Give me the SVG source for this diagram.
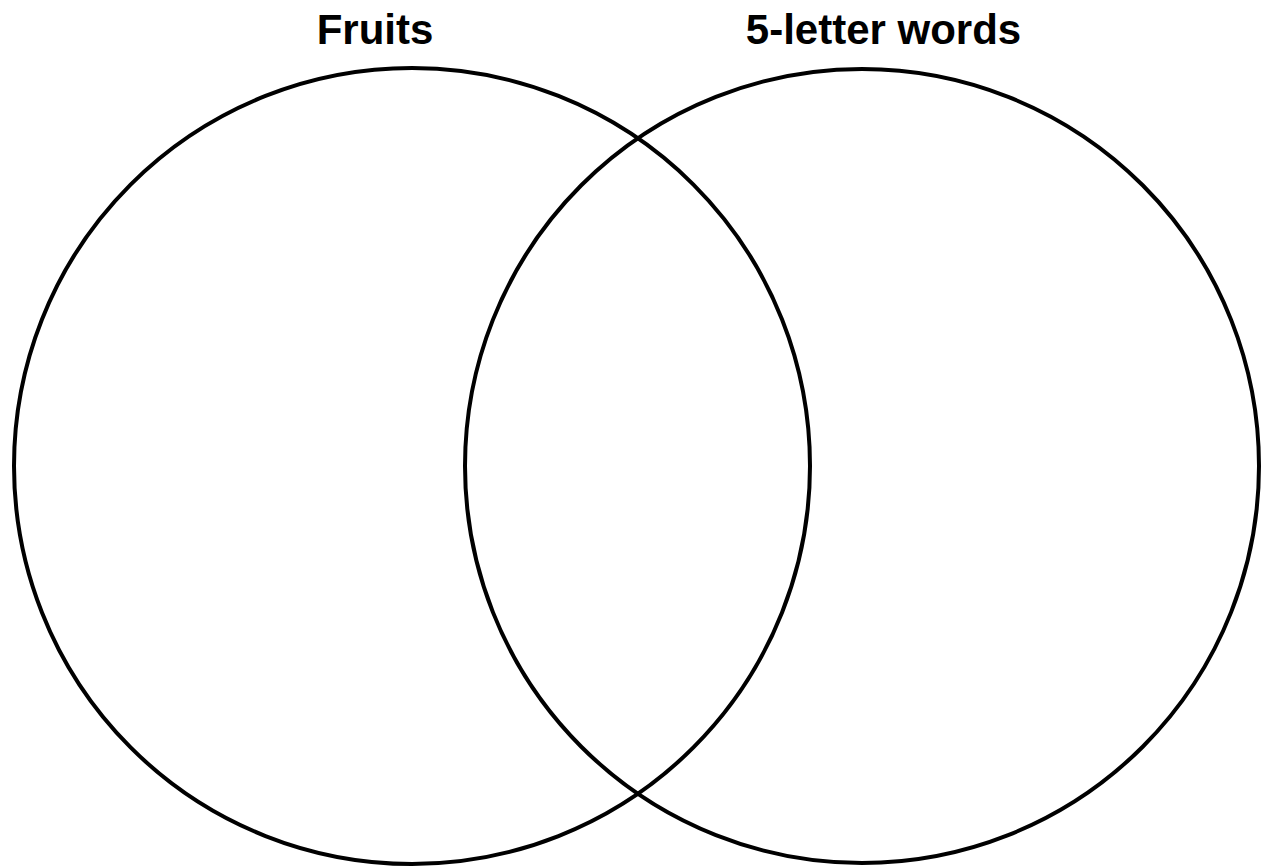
<svg xmlns="http://www.w3.org/2000/svg" width="1265" height="867" viewBox="0 0 1265 867">
<style>
.c{fill:none;stroke:#000;stroke-width:4}
.t{font-family:"Liberation Sans",Arial,sans-serif;font-weight:bold;font-size:42px;fill:#000;text-anchor:middle}
</style>
<rect width="1265" height="867" fill="#fff"/>
<g id="fruits">
<circle class="c" cx="412" cy="466" r="398"/>
<text class="t" x="375" y="44">Fruits</text>
</g>
<g id="five-letter-words">
<circle class="c" cx="862" cy="466" r="397"/>
<text class="t" x="883.5" y="44">5-letter words</text>
</g>
<g id="connectors"/>
</svg>
